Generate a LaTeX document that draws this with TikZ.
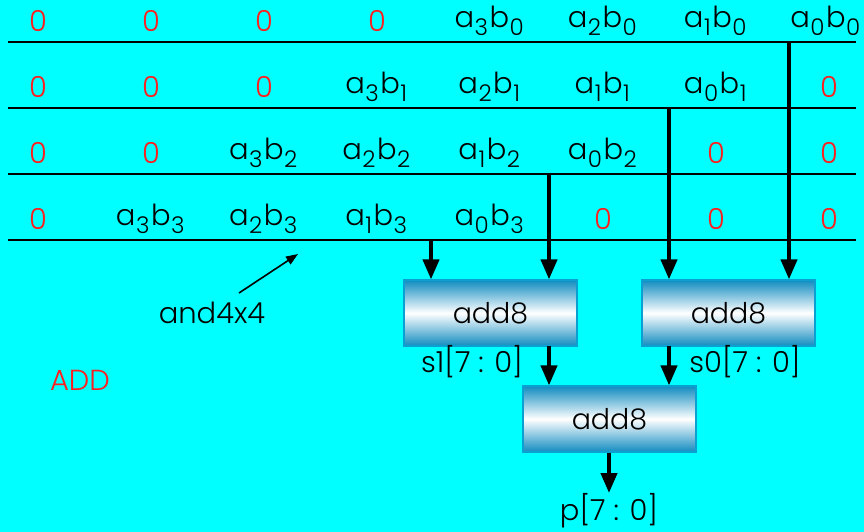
\documentclass[tikz,border=0pt]{standalone}
\usepackage{fontspec}
\setmainfont{Poppins Light}
\usetikzlibrary{arrows.meta}
\newcommand{\mysub}[1]{\kern0.5pt\raisebox{-0.5ex}{\fontsize{23}{23}\selectfont #1}\kern1.5pt}
\newcommand{\ab}[2]{a\mysub{#1}b\mysub{#2}}
\definecolor{bg}{RGB}{0,255,255}
\definecolor{zred}{RGB}{255,30,30}
\definecolor{boxedge}{RGB}{16,140,192}
\definecolor{boxline}{RGB}{10,160,210}
\begin{document}
\begin{tikzpicture}[x=1pt,y=-1pt,
  every node/.style={font=\fontsize{29}{31}\selectfont, inner sep=0pt},
  zero/.style={text=zred},
  term/.style={text=black},
  rowline/.style={line width=1.6pt, black},
  bus/.style={line width=4pt, black, -{Triangle[length=20pt,width=16pt]}},
  adder/.style={draw=boxline, line width=1.2pt, minimum width=173pt, minimum height=66pt,
     top color=boxedge, bottom color=boxedge, middle color=white, font=\fontsize{28.5}{30}\selectfont},
  lbl/.style={text=black}
]
\fill[bg] (0,0) rectangle (864,532);
\useasboundingbox (0,0) rectangle (864,532);
% row lines
\foreach \y/\n in {42/l1,108/l2,174/l3,240/l4}{
  \coordinate (\n w) at (8,\y);
  \coordinate (\n e) at (856,\y);
  \draw[rowline] (\n w) -- (\n e);
}
% row 1
\node[zero] (r1c1) at (38,21) {0};
\node[zero] (r1c2) at (151,21) {0};
\node[zero] (r1c3) at (264,21) {0};
\node[zero] (r1c4) at (377,21) {0};
\node[term] (r1c5) at (490,21) {\ab{3}{0}};
\node[term] (r1c6) at (603,21) {\ab{2}{0}};
\node[term] (r1c7) at (716,21) {\ab{1}{0}};
\node[term] (r1c8) at (826,21) {\ab{0}{0}};
% row 2
\node[zero] (r2c1) at (38,87) {0};
\node[zero] (r2c2) at (151,87) {0};
\node[zero] (r2c3) at (264,87) {0};
\node[term] (r2c4) at (377,87) {\ab{3}{1}};
\node[term] (r2c5) at (490,87) {\ab{2}{1}};
\node[term] (r2c6) at (603,87) {\ab{1}{1}};
\node[term] (r2c7) at (716,87) {\ab{0}{1}};
\node[zero] (r2c8) at (829,87) {0};
% row 3
\node[zero] (r3c1) at (38,153) {0};
\node[zero] (r3c2) at (151,153) {0};
\node[term] (r3c3) at (264,153) {\ab{3}{2}};
\node[term] (r3c4) at (377,153) {\ab{2}{2}};
\node[term] (r3c5) at (490,153) {\ab{1}{2}};
\node[term] (r3c6) at (603,153) {\ab{0}{2}};
\node[zero] (r3c7) at (716,153) {0};
\node[zero] (r3c8) at (829,153) {0};
% row 4
\node[zero] (r4c1) at (38,219) {0};
\node[term] (r4c2) at (151,219) {\ab{3}{3}};
\node[term] (r4c3) at (264,219) {\ab{2}{3}};
\node[term] (r4c4) at (377,219) {\ab{1}{3}};
\node[term] (r4c5) at (490,219) {\ab{0}{3}};
\node[zero] (r4c6) at (603,219) {0};
\node[zero] (r4c7) at (716,219) {0};
\node[zero] (r4c8) at (829,219) {0};
% adders
\node[adder] (A1) at (490.5,313) {add8};
\node[adder] (A0) at (728.5,313) {add8};
\node[adder] (A2) at (609.5,419) {add8};
% bus sources
\coordinate (b4) at (431,240);
\coordinate (b3) at (549,174);
\coordinate (b2) at (669,108);
\coordinate (b1) at (789,42);
\draw[bus] (b4) -- (b4 |- A1.north);
\draw[bus] (b3) -- (b3 |- A1.north);
\draw[bus] (b2) -- (b2 |- A0.north);
\draw[bus] (b1) -- (b1 |- A0.north);
\coordinate (s1a) at (549,346);
\coordinate (s0a) at (669,346);
\draw[bus] (s1a) -- (s1a |- A2.north);
\draw[bus] (s0a) -- (s0a |- A2.north);
\node[lbl] (s1) at (472,362) {s1[7 : 0]};
\node[lbl] (s0) at (745,362) {s0[7 : 0]};
\node[lbl] (p) at (609,511) {p[7 : 0]};
\draw[bus] (A2.south -| 609,0) -- (609,493);
% and4x4
\node[lbl] (and) at (212,313) {and4x4};
\coordinate (andtip) at (298,254);
\draw[line width=1.6pt,-{Triangle[length=12pt,width=9pt]}] (239,293) -- (andtip);
\node[text=zred] (add) at (80,380) {ADD};
\end{tikzpicture}
\end{document}
